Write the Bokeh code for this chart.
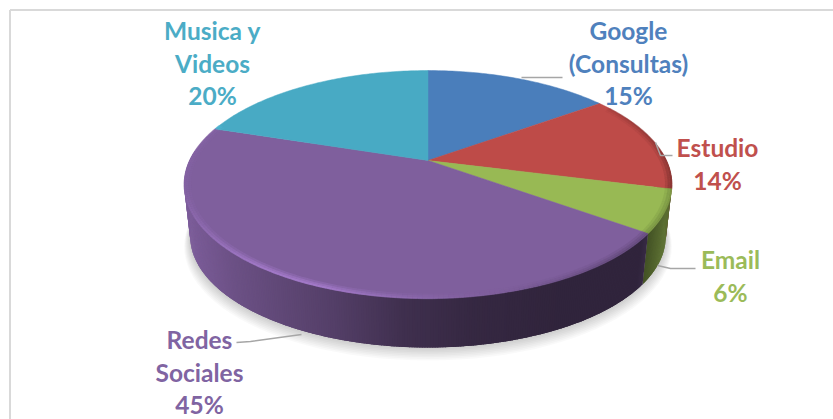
import math
from bokeh.plotting import figure
from bokeh.models import Range1d, ColumnDataSource
from bokeh.core.properties import value
from bokeh.embed import file_html
from bokeh.resources import INLINE

# --- chart data ---
categories = ["Google (Consultas)", "Estudio", "Email", "Redes Sociales", "Musica y Videos"]
shares = [15, 14, 6, 45, 20]
label_lines = [["Google", "(Consultas)"], ["Estudio"], ["Email"], ["Redes", "Sociales"], ["Musica y", "Videos"]]
top_colors = [(74, 126, 187), (190, 75, 72), (152, 185, 84), (127, 95, 157), (72, 170, 196)]
text_colors = ["#4F81BD", "#C0504D", "#9BBB59", "#8064A2", "#4BACC6"]

# --- layout of the drawing, in page pixels ---
CX, CY = 427.5, 160.0          # apex of the pie
A, B, K = 238.4, 108.9, 0.2105 # projective circle -> ellipse
DEPTH, BASE_SCALE = 52.5, 0.975
LABEL_X = [628, 717, 730, 199, 212]
LABEL_Y = [30, 147, 259, 339, 30]
LINE_H = 32.7
FONT = "Lato"
FONT_SIZE = "24.5px"
LEADERS = [([521, 562], [77, 77]),
           ([655, 660, 672], [142, 155, 155]),
           ([657, 670, 695], [265, 268, 268]),
           ([236, 250, 301], [342, 341, 334])]


def rim(deg, s=1.0, dy=0.0):
    t = math.radians(deg)
    u, v = math.sin(t), math.cos(t)
    w = 1 + K * v
    return CX + s * A * u / w, CY + dy - s * B * v / w


def hexcol(c):
    return "#%02x%02x%02x" % tuple(max(0, min(255, int(round(x)))) for x in c)


def shade_at(x):
    stops = [(184, .98), (230, .85), (280, .75), (330, .66), (400, .50), (470, .42), (560, .38), (640, .38), (665, .60), (675, .60)]
    for (x0, f0), (x1, f1) in zip(stops, stops[1:]):
        if x <= x1:
            r = max(0, (x - x0) / (x1 - x0))
            return f0 + r * (f1 - f0)
    return stops[-1][1]


total = sum(shares)
edges = [0.0]
for sv in shares:
    edges.append(edges[-1] + 360.0 * sv / total)


def slice_of(deg):
    d = deg % 360
    for i in range(len(shares)):
        if edges[i] <= d < edges[i + 1]:
            return i
    return len(shares) - 1


p = figure(width=833, height=419, x_range=Range1d(0, 833), y_range=Range1d(419, 0),
           output_backend="svg", toolbar_location=None, min_border=0,
           background_fill_color="white", border_fill_color="white", outline_line_color=None)
p.axis.visible = False
p.grid.visible = False

# chart frame (runs off the right and bottom of the window)
p.line([9.5, 9.5], [419, 9.5], line_color="#D9D9D9", line_width=2)
p.line([9.5, 833], [9.5, 9.5], line_color="#D9D9D9", line_width=2)

# soft shadow under the base
for i in range(9):
    s = BASE_SCALE * (1.0 + 0.0032 * i)
    pts = [rim(d, s, DEPTH + 1.2 * i) for d in range(0, 360, 3)]
    p.patch([q[0] for q in pts], [q[1] for q in pts], fill_color="#000000", fill_alpha=0.022, line_color=None)

# side wall: overlapping quads so no seams show
xs, ys, cols = [], [], []
for d2 in range(170, 550):
    d = d2 / 2.0
    e = d + 1.2
    i = slice_of(d + 0.25)
    if i != slice_of(e):
        e = edges[i + 1]
    a0, a1 = rim(d), rim(e)
    b0, b1 = rim(d, BASE_SCALE, DEPTH), rim(e, BASE_SCALE, DEPTH)
    xs.append([a0[0], a1[0], b1[0], b0[0]])
    ys.append([a0[1], a1[1], b1[1], b0[1]])
    f = shade_at((a0[0] + a1[0]) / 2)
    cols.append(hexcol([c * f for c in top_colors[i]]))
p.patches("xs", "ys", source=ColumnDataSource(dict(xs=xs, ys=ys, c=cols)), fill_color="c", line_color=None)

# top faces
for i, col in enumerate(top_colors):
    steps = max(2, int(edges[i + 1] - edges[i]))
    pts = [(CX, CY)] + [rim(edges[i] + (edges[i + 1] - edges[i]) * j / steps) for j in range(steps + 1)]
    p.patch([q[0] for q in pts], [q[1] for q in pts], fill_color=hexcol(col), line_color=hexcol(col), line_width=0.5)

# bevel along the front of the rim: soft stacked bands
mx, my, mc, mw, ma = [], [], [], [], []
for band, (rs, wid, aa) in enumerate([(0.982, 5.0, 0.3), (0.990, 3.5, 0.5), (0.998, 2.0, 0.8)]):
    for d in range(58, 290, 1):
        i = slice_of(d + 0.5)
        base = top_colors[i]
        if d < 104:
            col, alpha = [c * 0.6 for c in base], (0.18 + 0.6 * (d - 58) / 46)
        elif d < 165:
            col, alpha = [c * 0.72 for c in base], 0.65 * (1 - max(0, d - 135) / 30.0)
        else:
            g = max(0.0, min(1.0, (d - 165) / 35.0))
            if d > 215:
                g = max(0.35, 1.0 - (d - 215) / 60.0)
            col, alpha = [c * (1.0 + 0.3 * g) for c in base], 0.2 + 0.8 * g
        a0, a1 = rim(d, rs, 0), rim(d + 1, rs, 0)
        mx.append([a0[0], a1[0]])
        my.append([a0[1], a1[1]])
        mc.append(hexcol(col))
        mw.append(wid)
        ma.append(alpha * aa)
p.multi_line("x", "y", source=ColumnDataSource(dict(x=mx, y=my, c=mc, w=mw, a=ma)),
             line_color="c", line_width="w", line_alpha="a")

# leader lines
for lx, ly in LEADERS:
    p.line(lx, ly, line_color="#A6A6A6", line_width=1.5)

# labels
tx, ty, tt, tc = [], [], [], []
for i, lines in enumerate(label_lines):
    rows = lines + ["%d%%" % shares[i]]
    for j, row in enumerate(rows):
        tx.append(LABEL_X[i])
        ty.append(LABEL_Y[i] + j * LINE_H)
        tt.append(row)
        tc.append(text_colors[i])
p.text("x", "y", text="t", source=ColumnDataSource(dict(x=tx, y=ty, t=tt, c=tc)), text_color="c",
       text_font=value(FONT), text_font_style="bold", text_font_size=FONT_SIZE,
       text_align="center", text_baseline="middle")

open("out.html", "w").write(file_html(p, INLINE))
